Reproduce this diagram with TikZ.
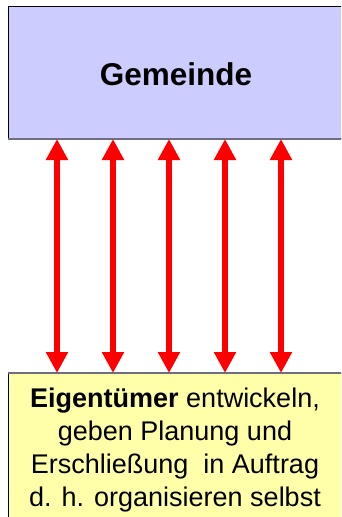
\documentclass[tikz,border=0pt]{standalone}
\usepackage{fontspec}
\setmainfont{Liberation Sans}
\usetikzlibrary{arrows.meta}
\definecolor{gemfill}{HTML}{CCCCFF}
\definecolor{eigfill}{HTML}{FFFFAA}
\definecolor{edgegray}{HTML}{6E6E80}
\tikzset{
  gembox/.style={draw=black, line width=1pt, fill=gemfill, anchor=north west, minimum width=337pt, minimum height=132pt, inner sep=0pt},
  eigbox/.style={draw=black, line width=1pt, fill=eigfill, anchor=north west, minimum width=337pt, minimum height=160pt, inner sep=0pt},
  grayedge/.style={draw=edgegray, line width=2pt},
  redarrow/.style={draw=red, line width=6pt, {Triangle[length=21pt,width=21pt]}-{Triangle[length=21pt,width=21pt]}},
}
\begin{document}
\begin{tikzpicture}[x=1pt,y=-1pt]
\useasboundingbox (0,0) rectangle (341,517);
\clip (0,0) rectangle (341,517);
\node[gembox] (gem) at (8,6) {};
\draw[grayedge] (gem.south west) -- (gem.south east);
\node[eigbox] (eig) at (8,373) {};
\draw[grayedge] (eig.north west) -- (eig.north east);
\foreach \x in {57,113,169,225,281}
  \draw[redarrow] (\x,0 |- gem.south) -- (\x,0 |- eig.north);
\node[font=\fontsize{31.5}{37}\selectfont\bfseries, anchor=base, inner sep=0pt] (gemtxt) at (176,85) {Gemeinde};
\node[font=\fontsize{27}{33}\selectfont, anchor=base, align=center, inner sep=0pt] (eigtxt) at (175,506)
  {\textbf{Eigentümer} entwickeln,\\geben Planung und\\Erschließung\ \ in Auftrag\\d. h. organisieren selbst};
\end{tikzpicture}
\end{document}
